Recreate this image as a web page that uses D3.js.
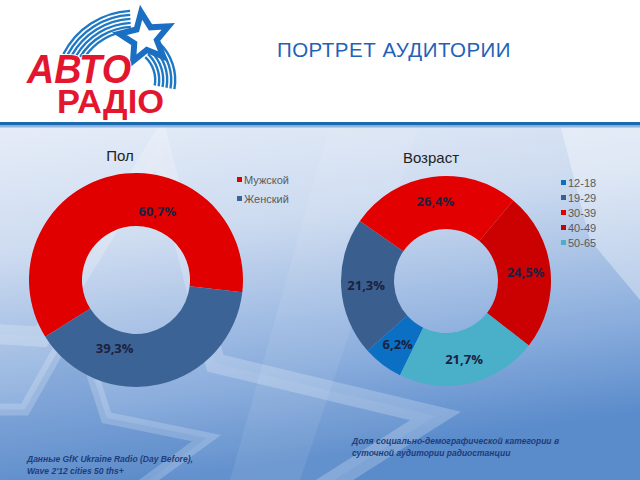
<!DOCTYPE html>
<html><head><meta charset="utf-8">
<script src="https://cdn.jsdelivr.net/npm/d3@7/dist/d3.min.js"></script>
<style>body{margin:0;padding:0;overflow:hidden;background:#fff}svg{display:block}</style>
</head><body>
<script>
// ---- data ----
const title = "ПОРТРЕТ АУДИТОРИИ";
const logoLines = ["АВТО", "РАДІО"];
const genderTitle = "Пол";
const genderCats = ["Мужской", "Женский"];
const genderVals = [60.7, 39.3];
const ageTitle = "Возраст";
const ageCats = ["12-18", "19-29", "30-39", "40-49", "50-65"];
const ageVals = [6.2, 21.3, 26.4, 24.5, 21.7];
const noteLeft = ["Данные GfK Ukraine Radio (Day Before),", "Wave 2'12 cities 50 ths+"];
const noteRight = ["Доля социально-демографической категории в", "суточной аудитории радиостанции"];

const genderColors = ["#e00000", "#3b6396"];
const ageColors = ["#0b6fc4", "#3a5f8f", "#e20000", "#cb0000", "#4aafc8"];

const W = 640, H = 480;
const svg = d3.select("body").append("svg").attr("width", W).attr("height", H);
const defs = svg.append("defs");

// background
const g1 = defs.append("linearGradient").attr("id", "bg").attr("x1", 0).attr("y1", 0).attr("x2", 0.25).attr("y2", 1);
g1.append("stop").attr("offset", 0).attr("stop-color", "#e6edf8");
g1.append("stop").attr("offset", 0.35).attr("stop-color", "#cddbf0");
g1.append("stop").attr("offset", 0.75).attr("stop-color", "#8aaddd");
g1.append("stop").attr("offset", 1).attr("stop-color", "#5a8bcb");
svg.append("rect").attr("width", W).attr("height", H).attr("fill", "#fff");
svg.append("rect").attr("y", 124).attr("width", W).attr("height", H - 124).attr("fill", "url(#bg)");

function starPts(cx, cy, R, r, rot) {
  const p = [];
  for (let i = 0; i < 10; i++) {
    const a = rot + i * Math.PI / 5;
    const rr = i % 2 === 0 ? R : r;
    p.push([cx + rr * Math.sin(a), cy - rr * Math.cos(a)]);
  }
  return p;
}
const bgG = svg.append("g");
bgG.append("polygon").attr("points", starPts(110, 470, 330, 150, 0.15).join(" "))
  .attr("fill", "#ffffff").attr("fill-opacity", 0.06).attr("stroke", "#ffffff").attr("stroke-opacity", 0.22).attr("stroke-width", 20);
bgG.append("polygon").attr("points", starPts(60, 470, 150, 70, 0.1).join(" "))
  .attr("fill", "#3f78c0").attr("fill-opacity", 0.22).attr("stroke", "#ffffff").attr("stroke-opacity", 0.2).attr("stroke-width", 12);
bgG.append("polygon").attr("points", [[560,124],[640,124],[640,300],[590,240]].join(" "))
  .attr("fill", "#ffffff").attr("fill-opacity", 0.35);
bgG.append("polygon").attr("points", [[330,124],[420,124],[300,480],[230,480]].join(" "))
  .attr("fill", "#ffffff").attr("fill-opacity", 0.08);

// header line
svg.append("rect").attr("y", 122).attr("width", W).attr("height", 3.5).attr("fill", "#1c6aae");
svg.append("rect").attr("y", 125.5).attr("width", W).attr("height", 2).attr("fill", "#8fb4e0");

// logo
const logo = svg.append("g");
const arcGen = d3.arc();
for (let i = 0; i < 6; i++) {
  const r = 58 + i * 4;
  logo.append("path").attr("transform", "translate(134,90)")
    .attr("d", arcGen({innerRadius: r, outerRadius: r + 2.4, startAngle: -1.0 - i * 0.02, endAngle: -0.05}))
    .attr("fill", "#1f78c4");
}
for (let i = 0; i < 6; i++) {
  const r = 30 + i * 4;
  logo.append("path").attr("transform", "translate(124,80)")
    .attr("d", arcGen({innerRadius: r, outerRadius: r + 2.4, startAngle: 0.75, endAngle: 1.75}))
    .attr("fill", "#1f78c4");
}
logo.append("polygon").attr("points", starPts(145, 38, 26, 12, -0.15).join(" "))
  .attr("fill", "#fff").attr("stroke", "#1a6fc2").attr("stroke-width", 6).attr("stroke-linejoin", "miter");
const lt = logo.append("text")
  .attr("font-family", "Liberation Sans, Arial, sans-serif").attr("font-weight", "bold")
  .attr("fill", "#e3162f").attr("stroke", "#fff").attr("stroke-width", 1.5).attr("paint-order", "stroke");
lt.append("tspan").attr("x", 27).attr("y", 83).text(logoLines[0])
  .attr("font-size", 40).attr("font-style", "italic").attr("textLength", 104).attr("lengthAdjust", "spacingAndGlyphs");
lt.append("tspan").attr("x", 57).attr("y", 113).text(logoLines[1])
  .attr("font-size", 34).attr("textLength", 107).attr("lengthAdjust", "spacingAndGlyphs");

// title
svg.append("text").attr("x", 394).attr("y", 57).attr("text-anchor", "middle").text(title)
  .attr("font-family", "Liberation Sans, Arial, sans-serif").attr("font-size", 20.5).attr("letter-spacing", 0.5)
  .attr("fill", "#1f62b8");

// donut drawing
function donut(cfg) {
  const g = svg.append("g").attr("transform", `translate(${cfg.cx},${cfg.cy})`);
  const a0 = cfg.start * Math.PI / 180;
  const pie = d3.pie().sort(null).startAngle(a0).endAngle(a0 + 2 * Math.PI);
  const arcs = pie(cfg.vals);
  const arc = d3.arc().innerRadius(cfg.ri).outerRadius(cfg.ro);
  const color = d3.scaleOrdinal().domain(cfg.cats).range(cfg.colors);
  g.selectAll("path").data(arcs).join("path")
    .attr("d", arc).attr("fill", (d, i) => color(cfg.cats[i]));
  const shift = cfg.labelShift * Math.PI / 180;
  const lab = d3.arc().innerRadius(cfg.rl).outerRadius(cfg.rl);
  g.selectAll("text.lbl").data(arcs).join("text").attr("class", "lbl")
    .attr("transform", d => {
      const c = lab.centroid({startAngle: d.startAngle + shift, endAngle: d.endAngle + shift});
      return `translate(${c[0]},${c[1]})`;
    })
    .attr("text-anchor", "middle").attr("dy", "0.35em")
    .attr("font-family", "Open Sans, Noto Sans, sans-serif").attr("font-weight", "bold")
    .attr("font-size", 13).attr("fill", "#1b2140")
    .text(d => d3.format(".1f")(d.data).replace(".", ",") + "%");
  svg.append("text").attr("x", cfg.tx).attr("y", cfg.ty).attr("text-anchor", "middle").text(cfg.title)
    .attr("font-family", "Liberation Sans, Arial, sans-serif").attr("font-size", 15).attr("fill", "#222");
  const leg = svg.append("g").attr("transform", `translate(${cfg.lx},${cfg.ly})`);
  const item = leg.selectAll("g").data(cfg.cats).join("g").attr("transform", (d, i) => `translate(0,${i * cfg.lstep})`);
  item.append("rect").attr("x", 0).attr("y", -3).attr("width", 5).attr("height", 5).attr("fill", d => color(d));
  item.append("text").attr("x", 7).attr("y", 0).attr("dy", "0.35em").text(d => d)
    .attr("font-family", "Liberation Sans, Arial, sans-serif").attr("font-size", 11).attr("fill", "#5a5a5a");
}

donut({cx: 136, cy: 280, ro: 107, ri: 54, rl: 72, start: 238, labelShift: 30,
  vals: genderVals, cats: genderCats, colors: genderColors, title: genderTitle, tx: 120, ty: 161,
  lx: 237, ly: 180, lstep: 19});
donut({cx: 446, cy: 281, ro: 105, ri: 52, rl: 80, start: 206, labelShift: 0,
  vals: ageVals, cats: ageCats, colors: ageColors, title: ageTitle, tx: 431, ty: 163,
  lx: 561, ly: 183, lstep: 15});

function note(lines, x, y) {
  svg.append("g").selectAll("text").data(lines).join("text")
    .attr("x", x).attr("y", (d, i) => y + i * 11.5).text(d => d)
    .attr("font-family", "Liberation Sans, Arial, sans-serif").attr("font-style", "italic").attr("font-weight", "bold")
    .attr("font-size", 8.5).attr("fill", "#1f3c78");
}
note(noteLeft, 27, 462);
note(noteRight, 352, 444);
</script>
</body></html>
